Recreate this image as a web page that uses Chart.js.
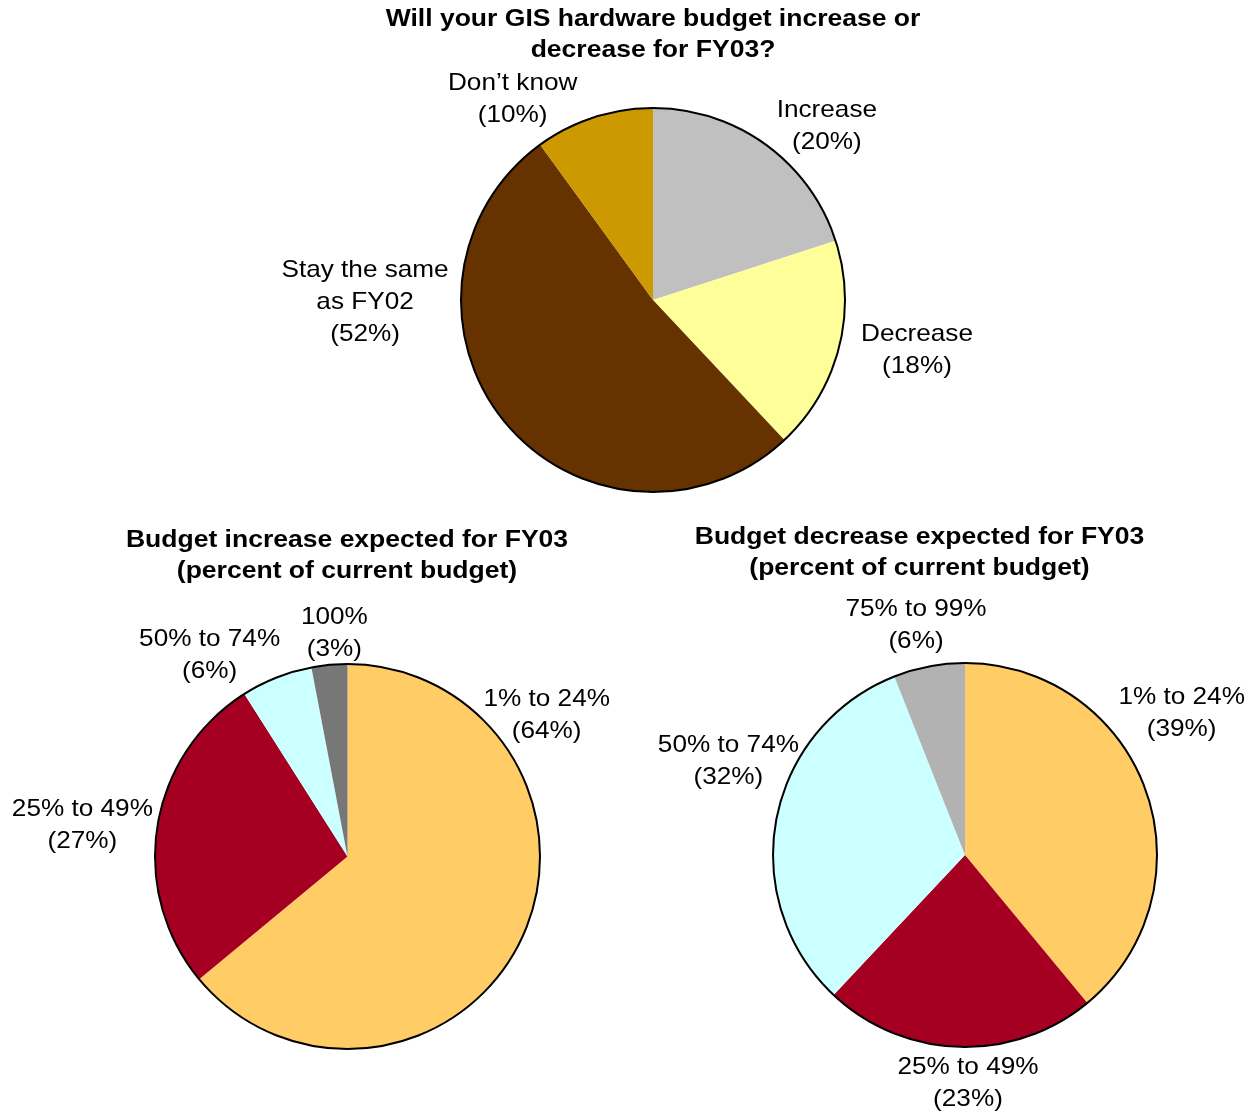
<!DOCTYPE html>
<html>
<head>
<meta charset="utf-8">
<title>GIS hardware budget FY03</title>
<script src="https://cdn.jsdelivr.net/npm/chart.js@4.4.0/dist/chart.umd.min.js"></script>
<style>
  body { margin: 0; background: #fff; }
  canvas { position: absolute; }
  #hwChart { left: 0; top: 0; }
  #incChart { left: 0; top: 500px; }
  #decChart { left: 627px; top: 500px; }
</style>
</head>
<body>
<canvas id="hwChart" width="1255" height="520"></canvas>
<canvas id="incChart" width="627" height="612"></canvas>
<canvas id="decChart" width="628" height="612"></canvas>
<script>
// hardware budget direction
const hwCategories = ["Increase", "Decrease", "Stay the same\nas FY02", "Don\u2019t know"];
const hwValues = [20, 18, 52, 10];
const hwColors = ["#C0C0C0", "#FFFF99", "#663300", "#CC9900"];

// size of expected increase
const incCategories = ["1% to 24%", "25% to 49%", "50% to 74%", "100%"];
const incValues = [64, 27, 6, 3];
const incColors = ["#FFCC66", "#A50021", "#CCFFFF", "#777777"];

// size of expected decrease
const decCategories = ["1% to 24%", "25% to 49%", "50% to 74%", "75% to 99%"];
const decValues = [39, 23, 32, 6];
const decColors = ["#FFCC66", "#A50021", "#CCFFFF", "#B2B2B2"];

// text is drawn a little wider than the plain font
const LABEL_STRETCH = 1.09;
const TITLE_STRETCH = 1.105;

function wideText(ctx, str, x, y, stretch) {
    ctx.save();
    ctx.translate(x, y);
    ctx.scale(stretch, 1);
    ctx.textAlign = "center";
    ctx.textBaseline = "alphabetic";
    ctx.fillText(str, 0, 0);
    ctx.restore();
}

// outline round the pie, slice labels placed off the rim, two-line title
const pieDecor = {
    id: "pieDecor",
    afterDatasetsDraw(chart, args, opts) {
        let ctx = chart.ctx;
        let arcs = chart.getDatasetMeta(0).data;
        let values = chart.data.datasets[0].data;
        let first = arcs[0];

        ctx.save();
        ctx.beginPath();
        ctx.arc(first.x, first.y, first.outerRadius, 0, Math.PI * 2);
        ctx.lineWidth = 2;
        ctx.strokeStyle = "#000";
        ctx.stroke();

        ctx.fillStyle = "#000";
        ctx.font = '24px "Liberation Sans", Arial, sans-serif';
        arcs.forEach((arc, i) => {
            let mid = (arc.startAngle + arc.endAngle) / 2;
            let rx = arc.x + Math.cos(mid) * arc.outerRadius;
            let ry = arc.y + Math.sin(mid) * arc.outerRadius;
            let [dx, dy] = opts.offsets[i];
            let lines = chart.data.labels[i].split("\n");
            lines.push("(" + values[i] + "%)");
            lines.forEach((t, k) => wideText(ctx, t, rx + dx, ry + dy + k * 32, LABEL_STRETCH));
        });

        ctx.font = 'bold 24px "Liberation Sans", Arial, sans-serif';
        opts.title.forEach((t, k) => wideText(ctx, t, opts.titleX, opts.titleY + k * 31, TITLE_STRETCH));
        ctx.restore();
    },
};

function makePie(id, labels, values, colors, padding, decor) {
    return new Chart(document.getElementById(id), {
        type: "pie",
        data: {
            labels: labels,
            datasets: [
                {
                    data: values,
                    backgroundColor: colors,
                    borderWidth: 0,
                },
            ],
        },
        options: {
            responsive: false,
            animation: false,
            layout: { padding: padding },
            plugins: {
                legend: { display: false },
                tooltip: { enabled: false },
                pieDecor: decor,
            },
        },
        plugins: [pieDecor],
    });
}

makePie("hwChart", hwCategories, hwValues, hwColors,
    { left: 461, right: 410, top: 108, bottom: 28 },
    {
        title: ["Will your GIS hardware budget increase or", "decrease for FY03?"],
        titleX: 653,
        titleY: 26,
        offsets: [[61, -28], [78, -7], [-140, -145], [-81, -27]],
    });

makePie("incChart", incCategories, incValues, incColors,
    { left: 155, right: 87, top: 164, bottom: 63 },
    {
        title: ["Budget increase expected for FY03", "(percent of current budget)"],
        titleX: 347,
        titleY: 47,
        offsets: [[25, -232], [-75, -10], [-67, -32], [5, -41]],
    });

makePie("decChart", decCategories, decValues, decColors,
    { left: 146, right: 98, top: 163, bottom: 65 },
    {
        title: ["Budget decrease expected for FY03", "(percent of current budget)"],
        titleX: 292.5,
        titleY: 44,
        offsets: [[36, -86], [9, 27], [-48, -67], [-13, -50]],
    });
</script>
</body>
</html>
